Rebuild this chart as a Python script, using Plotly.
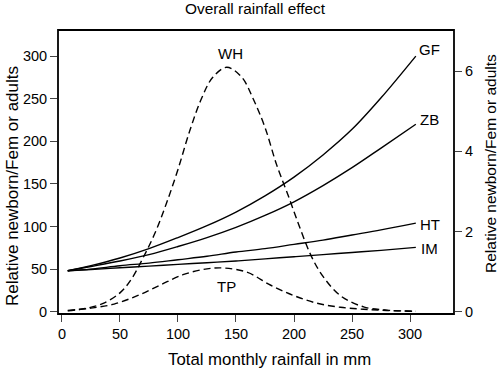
import plotly.graph_objects as go

# ---- data ----
x_solid = [5, 25, 50, 75, 100, 125, 150, 175, 200, 225, 250, 275, 305]
gf = [48, 54, 63, 74, 87, 101, 117, 136, 158, 184, 214, 251, 300]
zb = [48, 53, 59.5, 67, 76.5, 87, 99, 113, 129, 148, 169, 192, 220]
ht = [48, 50, 54, 57, 61, 65, 70, 74, 79, 84, 90, 96, 104]
im = [48, 49.5, 51.5, 53.5, 55.5, 57.5, 59.5, 62, 64.5, 67, 69.5, 72, 75.5]

x_wh = [5, 20, 35, 50, 60, 70, 80, 90, 100, 110, 120, 130, 142, 155, 165, 175,
        185, 195, 205, 215, 225, 240, 260, 280, 305]
wh = [0.02, 0.08, 0.2, 0.47, 0.82, 1.35, 1.95, 2.7, 3.55, 4.5, 5.3, 5.85, 6.1,
      5.85, 5.3, 4.6, 3.67, 2.9, 2.1, 1.38, 0.88, 0.4, 0.12, 0.04, 0.01]

x_tp = [5, 25, 45, 65, 85, 105, 125, 140, 160, 180, 200, 220, 240, 260, 280, 305]
tp = [0.03, 0.09, 0.19, 0.4, 0.67, 0.93, 1.07, 1.09, 0.98, 0.66, 0.4, 0.21,
      0.11, 0.06, 0.03, 0.01]

x_ticks = [0, 50, 100, 150, 200, 250, 300]
y_ticks = [0, 50, 100, 150, 200, 250, 300]
y2_ticks = [0, 2, 4, 6]

labels = ["GF", "ZB", "HT", "IM", "WH", "TP"]
label_x = [317, 317, 317, 317, 145, 142]
label_y = [308, 226, 102, 74.5, 303, 29]

title_text = "Overall rainfall effect"
x_title = "Total monthly rainfall in mm"
y_title = "Relative newborn/Fem or adults"

FONT = "Liberation Sans, Arial, sans-serif"
W, H = 500, 370
BOX_L, BOX_R, BOX_T, BOX_B = 58, 454, 30, 314   # plot box in page pixels
L, T = BOX_L, BOX_T
R, B = W - BOX_R, H - BOX_B
PW, PH = BOX_R - BOX_L, BOX_B - BOX_T


def px(x):
    return (x - BOX_L) / PW


def py(y):
    return (BOX_B - y) / PH


fig = go.Figure()
for yy in (gf, zb, ht, im):
    fig.add_trace(go.Scatter(x=x_solid, y=yy, mode="lines",
                             line=dict(color="black", width=1.4, shape="spline"),
                             showlegend=False, hoverinfo="skip"))
for xx, yy in ((x_wh, wh), (x_tp, tp)):
    fig.add_trace(go.Scatter(x=xx, y=yy, mode="lines", yaxis="y2",
                             line=dict(color="black", width=1.4, shape="spline",
                                       dash="7px,4px"),
                             showlegend=False, hoverinfo="skip"))

for t, lx, ly in zip(labels, label_x, label_y):
    fig.add_annotation(x=lx, y=ly, xref="x", yref="y", text=t, showarrow=False,
                       font=dict(size=15, color="black", family=FONT))

# titles as free text
fig.add_annotation(x=px(255), y=py(9), xref="paper", yref="paper", text=title_text,
                   showarrow=False, xanchor="center", yanchor="middle",
                   font=dict(size=15.4, color="black", family=FONT))
fig.add_annotation(x=px(269), y=py(359), xref="paper", yref="paper", text=x_title,
                   showarrow=False, xanchor="center", yanchor="middle",
                   font=dict(size=16.8, color="black", family=FONT))
fig.add_annotation(x=px(13), y=py(186), xref="paper", yref="paper", text=y_title,
                   showarrow=False, xanchor="center", yanchor="middle", textangle=-90,
                   font=dict(size=17, color="black", family=FONT))
fig.add_annotation(x=px(490), y=py(163), xref="paper", yref="paper", text=y_title,
                   showarrow=False, xanchor="center", yanchor="middle", textangle=-90,
                   font=dict(size=15.5, color="black", family=FONT))

tick_style = dict(ticks="outside", ticklen=7, tickwidth=1, tickcolor="#444",
                  showgrid=False, zeroline=False, showline=False, automargin=False,
                  tickfont=dict(size=14.5, color="black", family=FONT))

fig.update_layout(
    width=W, height=H,
    margin=dict(l=L, r=R, t=T, b=B, autoexpand=False),
    paper_bgcolor="white", plot_bgcolor="white",
    hovermode=False,
    xaxis=dict(range=[-3.4, 337.9], tickvals=x_ticks,
               ticktext=[str(v) for v in x_ticks], **tick_style),
    yaxis=dict(range=[-2.7, 330.6], tickvals=y_ticks,
               ticktext=[str(v) for v in y_ticks], **tick_style),
    yaxis2=dict(range=[-0.0575, 7.03], tickvals=y2_ticks,
                ticktext=[str(v) for v in y2_ticks], overlaying="y", side="right",
                **tick_style),
    shapes=[dict(type="rect", xref="paper", yref="paper", x0=0, y0=0, x1=1, y1=1,
                 line=dict(color="black", width=1.8), layer="above")],
)

# remove the browser's default 8px body margin so the figure sits at the page origin
fig.write_html("out.html", config={"displayModeBar": False, "staticPlot": True},
               post_script="document.body.style.margin='0px';")
